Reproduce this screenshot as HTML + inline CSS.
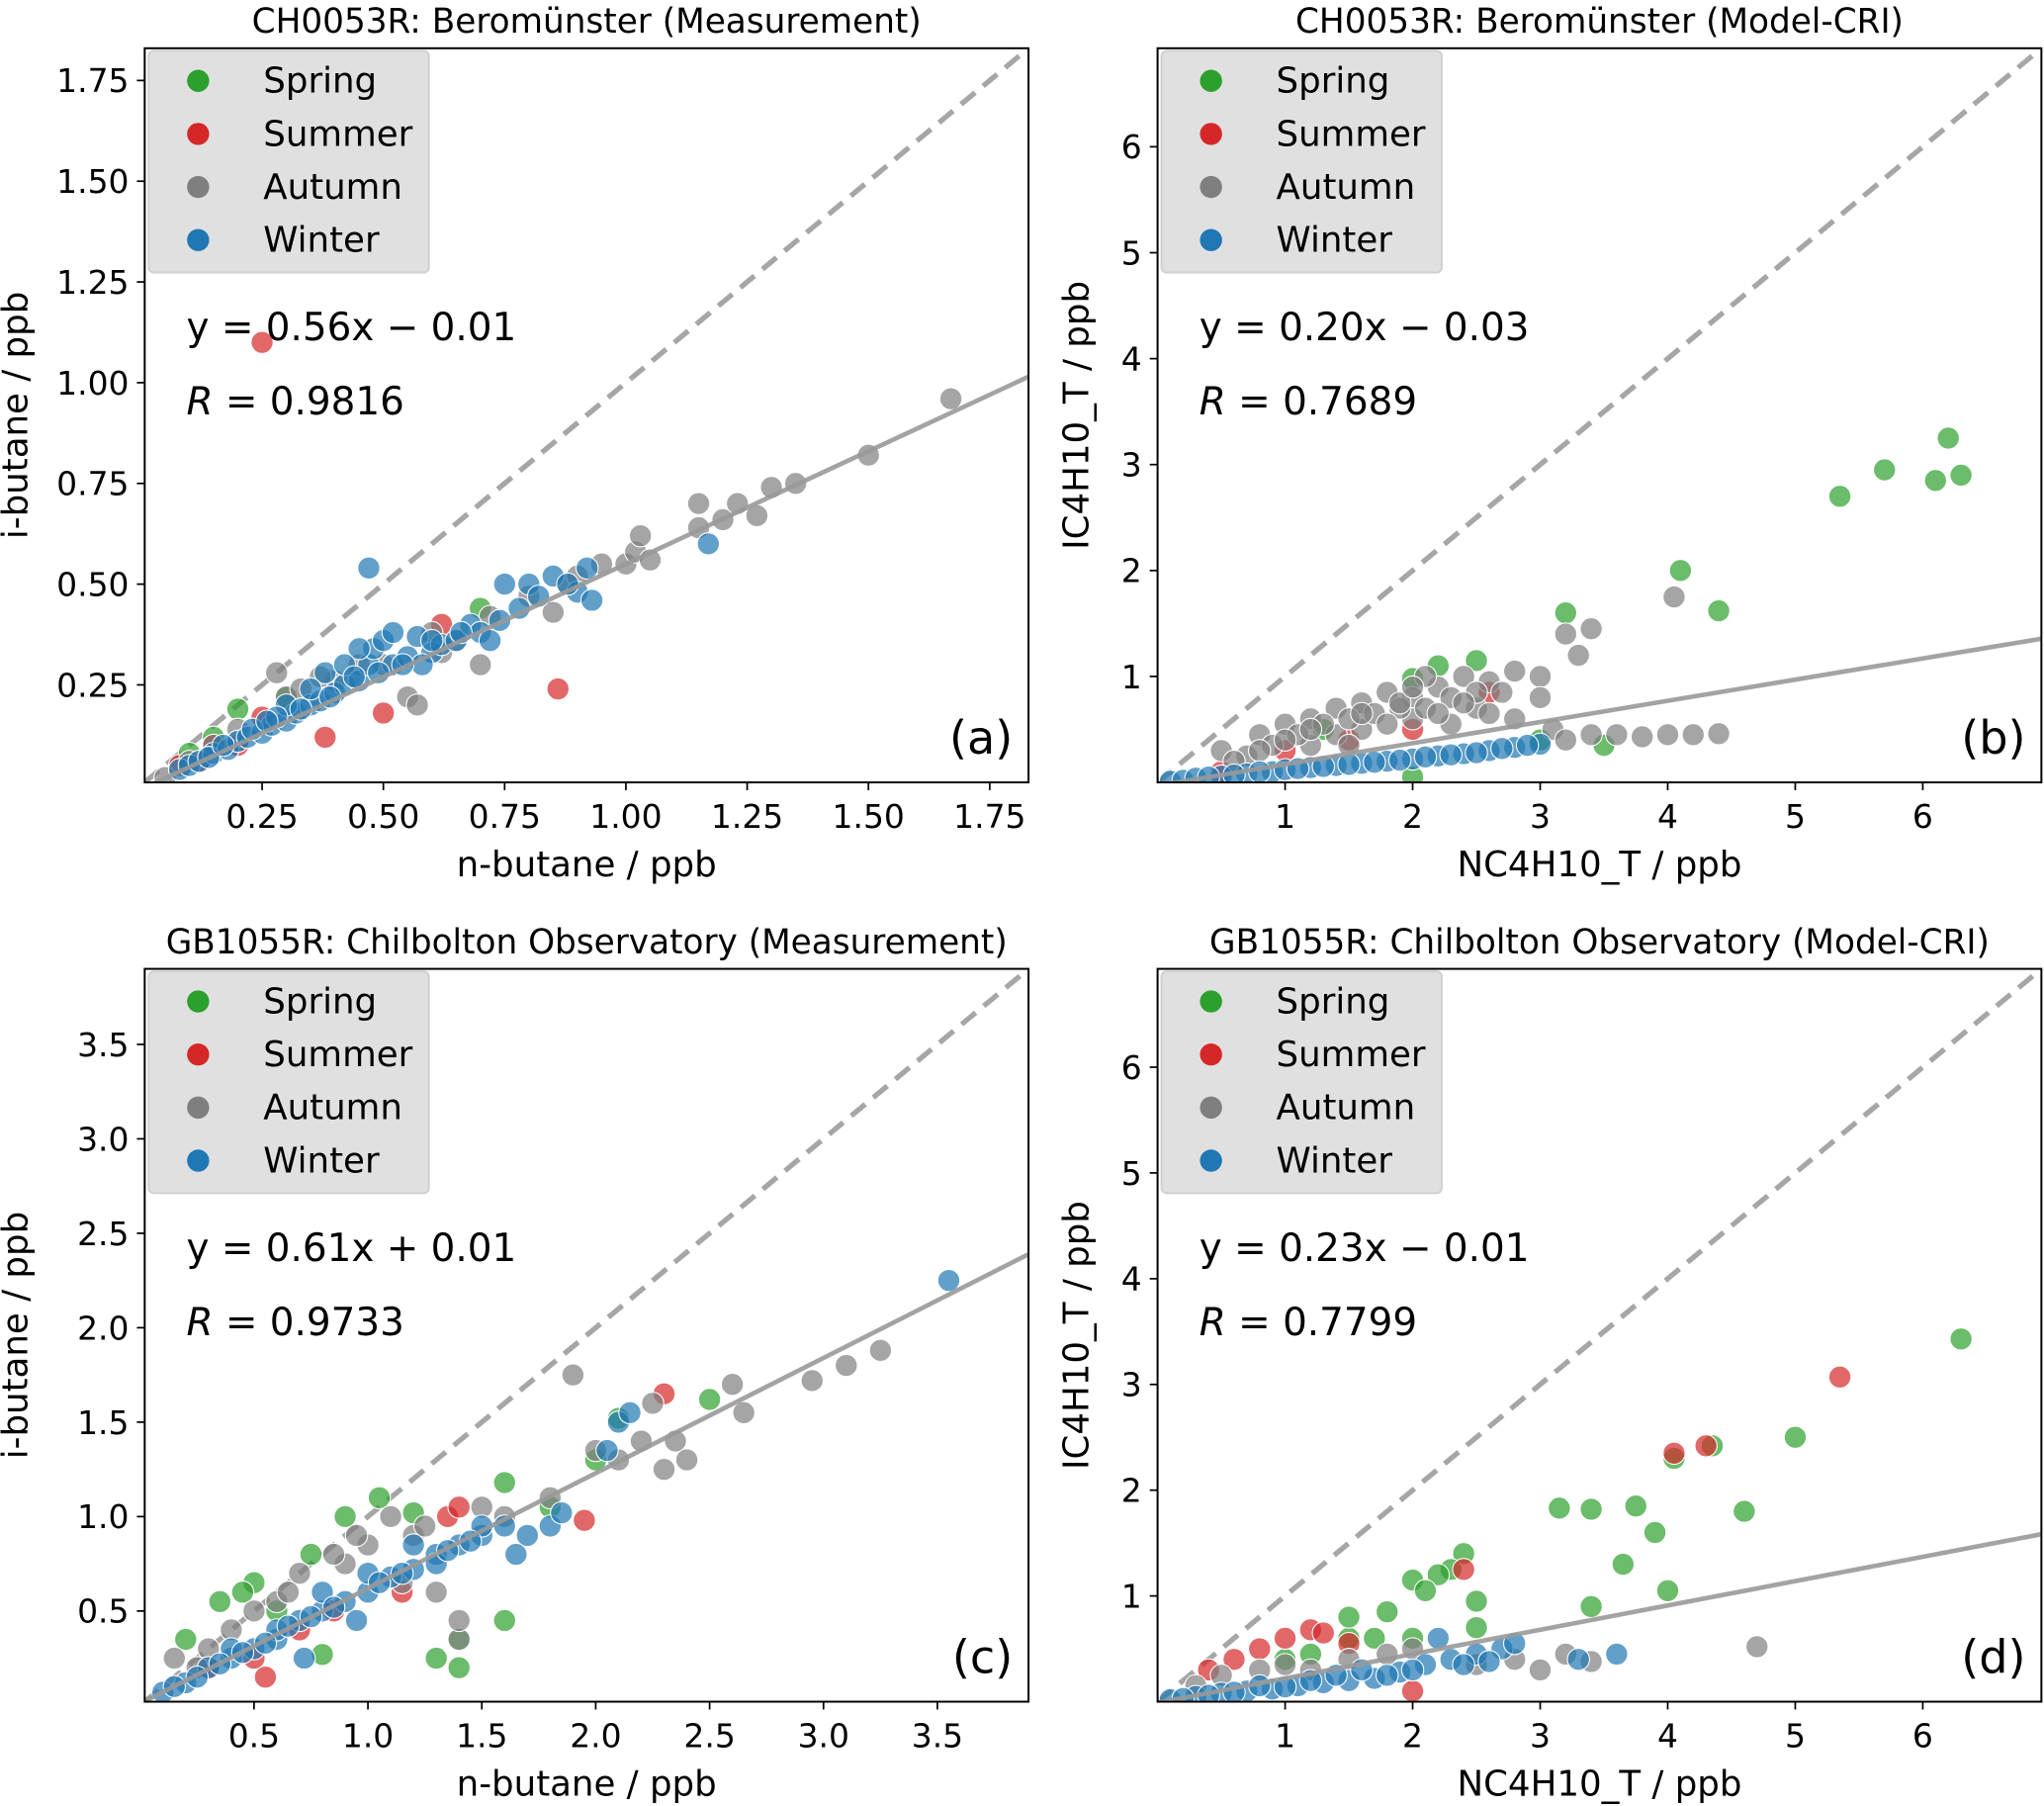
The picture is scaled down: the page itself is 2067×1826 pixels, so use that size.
<!DOCTYPE html>
<html><head><meta charset="utf-8">
<style>
html,body{margin:0;padding:0;background:#fff;}
svg{display:block;font-family:"DejaVu Sans","Liberation Sans",sans-serif;}
</style></head>
<body>
<svg id="fig" width="2067" height="1826" viewBox="0 0 1568 1385" preserveAspectRatio="none" xmlns="http://www.w3.org/2000/svg"></svg>
<script>
// ---------- data ----------
const seasonNames = ["Spring","Summer","Autumn","Winter"];
const seasonColors = ["#2ca02c","#d62728","#7f7f7f","#1f77b4"];

const panelTitles = ["CH0053R: Beromünster (Measurement)","CH0053R: Beromünster (Model-CRI)","GB1055R: Chilbolton Observatory (Measurement)","GB1055R: Chilbolton Observatory (Model-CRI)"];
const panelXLabels = ["n-butane / ppb","NC4H10_T / ppb","n-butane / ppb","NC4H10_T / ppb"];
const panelYLabels = ["i-butane / ppb","IC4H10_T / ppb","i-butane / ppb","IC4H10_T / ppb"];
const panelTags = ["(a)","(b)","(c)","(d)"];
const fitSlopes = [0.56,0.20,0.61,0.23];
const fitIntercepts = [-0.01,-0.03,0.01,-0.01];
const fitEquations = ["y = 0.56x − 0.01","y = 0.20x − 0.03","y = 0.61x + 0.01","y = 0.23x − 0.01"];
const fitR = ["0.9816","0.7689","0.9733","0.7799"];
const axisMin = [0.008,0.0,0.02,0.0];
const axisMax = [1.83,6.93,3.9,6.93];
const tickValsA = [0.25,0.5,0.75,1.0,1.25,1.5,1.75];
const tickLabsA = ["0.25","0.50","0.75","1.00","1.25","1.50","1.75"];
const tickValsB = [1,2,3,4,5,6];
const tickLabsB = ["1","2","3","4","5","6"];
const tickValsC = [0.5,1.0,1.5,2.0,2.5,3.0,3.5];
const tickLabsC = ["0.5","1.0","1.5","2.0","2.5","3.0","3.5"];

// panel (a)
const aSpring = [[0.2,0.19],[0.15,0.12],[0.7,0.44],[0.1,0.08],[0.3,0.22]];
const aSummer = [[0.12,0.06],[0.15,0.1],[0.2,0.1],[0.62,0.4],[0.08,0.05],[0.25,0.17],[0.86,0.24],[0.5,0.18],[0.38,0.12],[0.25,1.1]];
const aAutumn = [[0.05,0.02],[0.1,0.06],[0.28,0.28],[0.4,0.26],[0.5,0.3],[0.55,0.22],[0.57,0.2],[0.6,0.38],[0.65,0.36],[0.7,0.3],[0.72,0.42],[0.8,0.47],[0.85,0.43],[0.88,0.5],[0.9,0.52],[0.95,0.55],[1.0,0.55],[1.02,0.58],[1.03,0.62],[1.05,0.56],[1.15,0.64],[1.15,0.7],[1.2,0.66],[1.23,0.7],[1.27,0.67],[1.3,0.74],[1.35,0.75],[1.5,0.82],[1.67,0.96],[0.3,0.22],[0.45,0.3],[0.2,0.14],[0.15,0.1],[0.33,0.24],[0.37,0.27],[0.62,0.33]];
const aWinter = [[0.08,0.04],[0.1,0.05],[0.12,0.06],[0.15,0.08],[0.18,0.09],[0.2,0.11],[0.22,0.12],[0.25,0.13],[0.27,0.15],[0.3,0.16],[0.32,0.18],[0.35,0.2],[0.37,0.21],[0.4,0.23],[0.42,0.25],[0.45,0.26],[0.47,0.3],[0.48,0.34],[0.5,0.36],[0.52,0.3],[0.55,0.32],[0.57,0.37],[0.6,0.33],[0.62,0.35],[0.65,0.36],[0.68,0.4],[0.7,0.38],[0.72,0.36],[0.75,0.5],[0.78,0.44],[0.8,0.5],[0.85,0.52],[0.9,0.48],[0.93,0.46],[0.92,0.54],[0.47,0.54],[1.17,0.6],[0.45,0.34],[0.38,0.28],[0.3,0.2],[0.28,0.17],[0.52,0.38],[0.58,0.3],[0.42,0.3],[0.35,0.24],[0.14,0.07],[0.17,0.1],[0.23,0.14],[0.26,0.16],[0.33,0.19],[0.39,0.22],[0.44,0.27],[0.49,0.28],[0.54,0.3],[0.6,0.36],[0.66,0.38],[0.74,0.41],[0.82,0.47],[0.88,0.5]];
// panel (b)
const bSpring = [[6.2,3.25],[5.7,2.95],[6.3,2.9],[6.1,2.85],[5.35,2.7],[4.1,2.0],[4.4,1.62],[3.2,1.6],[2.5,1.15],[2.2,1.1],[2.0,0.98],[3.0,0.4],[3.5,0.35],[2.0,0.05],[1.3,0.5]];
const bSummer = [[2.6,0.85],[1.5,0.4],[1.0,0.3],[2.0,0.5],[0.5,0.1]];
const bAutumn = [[0.5,0.3],[0.8,0.45],[1.0,0.55],[1.2,0.6],[1.4,0.7],[1.6,0.75],[1.8,0.85],[2.0,0.8],[2.2,0.9],[2.4,1.0],[2.6,0.95],[2.8,1.05],[3.0,1.0],[3.2,1.4],[3.4,1.45],[3.3,1.2],[4.05,1.75],[1.2,0.35],[1.6,0.5],[2.0,0.6],[2.5,0.7],[2.8,0.6],[3.1,0.5],[3.4,0.45],[3.6,0.45],[3.8,0.43],[4.0,0.45],[4.2,0.45],[4.4,0.46],[3.2,0.4],[0.7,0.25],[1.4,0.45],[1.9,0.7],[2.3,0.55],[2.7,0.85],[0.9,0.35],[3.0,0.8],[2.1,1.0],[0.6,0.2],[1.1,0.45],[1.3,0.55],[1.5,0.6],[1.7,0.65],[1.9,0.75],[2.1,0.7],[2.3,0.8],[2.5,0.85],[1.0,0.4],[1.5,0.35],[1.8,0.55],[2.2,0.65],[2.6,0.65],[1.2,0.5],[1.6,0.65],[2.0,0.9],[2.4,0.75],[0.8,0.3]];
const bWinter = [[0.1,0.01],[0.2,0.02],[0.3,0.04],[0.5,0.06],[0.7,0.08],[0.9,0.1],[1.0,0.12],[1.2,0.14],[1.4,0.16],[1.6,0.18],[1.8,0.2],[2.0,0.22],[2.2,0.25],[2.4,0.27],[2.6,0.3],[2.8,0.33],[3.0,0.36],[1.1,0.13],[1.5,0.17],[1.9,0.21],[2.3,0.26],[2.7,0.32],[0.4,0.05],[0.6,0.07],[0.8,0.1],[1.3,0.15],[1.7,0.19],[2.1,0.24],[2.5,0.28],[2.9,0.35]];
// panel (c)
const cSpring = [[0.2,0.35],[0.35,0.55],[0.5,0.65],[0.6,0.5],[0.75,0.8],[0.9,1.0],[1.05,1.1],[1.3,0.25],[1.4,0.2],[1.4,0.35],[1.6,0.45],[1.6,1.18],[1.8,1.05],[2.0,1.3],[2.1,1.52],[2.5,1.62],[0.45,0.6],[1.2,1.02],[0.8,0.27]];
const cSummer = [[0.55,0.15],[0.5,0.25],[0.85,0.5],[1.15,0.6],[1.35,1.0],[1.95,0.98],[2.3,1.65],[1.4,1.05],[0.3,0.2],[0.7,0.4]];
const cAutumn = [[0.15,0.25],[0.5,0.5],[0.7,0.7],[0.9,0.75],[1.0,0.85],[1.1,1.0],[1.2,0.9],[1.3,0.6],[1.4,0.35],[1.4,0.45],[1.6,1.0],[1.8,1.1],[1.9,1.75],[2.0,1.35],[2.1,1.3],[2.2,1.4],[2.25,1.6],[2.3,1.25],[2.35,1.4],[2.4,1.3],[2.6,1.7],[2.65,1.55],[2.95,1.72],[3.1,1.8],[3.25,1.88],[0.3,0.3],[0.6,0.55],[0.85,0.8],[1.15,0.65],[1.5,1.05],[0.4,0.4],[0.65,0.6],[0.95,0.9],[1.25,0.95],[0.25,0.2]];
const cWinter = [[0.1,0.07],[0.2,0.12],[0.3,0.2],[0.4,0.25],[0.5,0.3],[0.6,0.35],[0.7,0.45],[0.8,0.5],[0.9,0.55],[1.0,0.6],[1.1,0.68],[1.2,0.72],[1.3,0.8],[1.4,0.85],[1.5,0.9],[1.6,0.95],[1.7,0.9],[1.8,0.95],[1.85,1.02],[1.5,0.95],[1.3,0.75],[1.0,0.7],[0.8,0.6],[0.6,0.4],[0.72,0.25],[2.1,1.5],[2.15,1.55],[2.05,1.35],[3.55,2.25],[1.2,0.85],[0.4,0.3],[1.65,0.8],[0.95,0.45],[0.15,0.1],[0.25,0.15],[0.35,0.22],[0.45,0.28],[0.55,0.33],[0.65,0.42],[0.75,0.47],[0.85,0.52],[1.05,0.65],[1.15,0.7],[1.35,0.82],[1.45,0.87]];
// panel (d)
const dSpring = [[6.3,3.43],[5.0,2.5],[4.35,2.42],[4.05,2.3],[4.6,1.8],[3.15,1.83],[3.4,1.82],[3.75,1.85],[3.9,1.6],[3.65,1.3],[4.0,1.05],[3.4,0.9],[2.4,1.4],[2.3,1.25],[2.2,1.2],[2.0,1.15],[2.1,1.05],[2.5,0.95],[2.5,0.7],[1.8,0.85],[1.5,0.6],[1.7,0.6],[2.0,0.6],[1.5,0.8],[1.2,0.45],[1.0,0.4]];
const dSummer = [[5.35,3.07],[4.05,2.35],[4.3,2.42],[2.4,1.25],[1.0,0.6],[1.2,0.68],[1.3,0.65],[0.8,0.5],[0.6,0.4],[1.5,0.55],[0.4,0.3],[2.0,0.1]];
const dAutumn = [[0.5,0.25],[0.8,0.3],[1.0,0.35],[1.5,0.4],[2.0,0.5],[2.5,0.35],[3.0,0.3],[3.2,0.45],[3.4,0.38],[4.7,0.52],[0.3,0.15],[1.2,0.3],[1.8,0.45],[2.8,0.4]];
const dWinter = [[0.1,0.02],[0.3,0.05],[0.5,0.08],[0.7,0.1],[0.9,0.12],[1.1,0.15],[1.3,0.18],[1.5,0.2],[1.7,0.22],[1.9,0.28],[2.1,0.35],[2.3,0.4],[2.5,0.45],[2.7,0.5],[2.8,0.55],[2.2,0.6],[3.3,0.4],[3.6,0.45],[1.2,0.2],[1.6,0.3],[2.0,0.3],[2.4,0.35],[0.8,0.15],[1.4,0.25],[2.6,0.38],[0.2,0.03],[0.4,0.06],[0.6,0.09],[1.0,0.14],[1.8,0.25]];

const panelSeries = [[aSpring,aSummer,aAutumn,aWinter],[bSpring,bSummer,bAutumn,bWinter],[cSpring,cSummer,cAutumn,cWinter],[dSpring,dSummer,dAutumn,dWinter]];
const panelTicks = [[tickValsA,tickLabsA],[tickValsB,tickLabsB],[tickValsC,tickLabsC],[tickValsB,tickLabsB]];

// ---------- drawing ----------
const NS="http://www.w3.org/2000/svg";
const svg=document.getElementById('fig');
function mk(tag,attrs,parent){const e=document.createElementNS(NS,tag);for(const k in attrs)e.setAttribute(k,attrs[k]);(parent||svg).appendChild(e);return e;}
const boxes=[[111,37,789,600],[888,37,1566,600],[111,743,789,1305],[888,743,1566,1305]];

for(let p=0;p<4;p++){
  const [L,T,R,B]=boxes[p];
  const lo=axisMin[p], hi=axisMax[p];
  const sx=v=>L+(v-lo)/(hi-lo)*(R-L);
  const sy=v=>B-(v-lo)/(hi-lo)*(B-T);
  const g=mk('g',{});
  
  
  const defs=mk('clipPath',{id:'clip'+p},g);mk('rect',{x:L,y:T,width:R-L,height:B-T},defs);
  const t=mk('text',{x:(L+R)/2,y:T-12,'text-anchor':'middle','font-size':'26'},g);
  t.textContent=panelTitles[p];
  
  
  const [tv,tl]=panelTicks[p];
  for(let i=0;i<tv.length;i++){
    const x=sx(tv[i]), y=sy(tv[i]);
    mk('line',{x1:x,y1:B,x2:x,y2:B+6,stroke:'#000','stroke-width':1.3},g);
    const xt=mk('text',{x:x,y:B+35,'text-anchor':'middle','font-size':'25'},g);xt.textContent=tl[i];
    
    
    mk('line',{x1:L-6,y1:y,x2:L,y2:y,stroke:'#000','stroke-width':1.3},g);
    const yt=mk('text',{x:L-12,y:y+9,'text-anchor':'end','font-size':'25'},g);yt.textContent=tl[i];
    
    
  }
  const xl=mk('text',{x:(L+R)/2,y:B+72,'text-anchor':'middle','font-size':'27'},g);xl.textContent=panelXLabels[p];
  
  
  const yx=L-(p%2==0?90:53), yy=(T+B)/2;
  const yl=mk('text',{x:yx,y:yy,'text-anchor':'middle','font-size':'27',transform:`rotate(-90 ${yx} ${yy})`},g);yl.textContent=panelYLabels[p];
  
  
  const plot=mk('g',{'clip-path':`url(#clip${p})`},g);
  const d=mk('line',{x1:sx(lo),y1:sy(lo),x2:sx(hi),y2:sy(hi),stroke:'#a6a6a6','stroke-width':4,'stroke-dasharray':'14 8'},plot);
  
  
  for(let s=0;s<4;s++){
    const pts=panelSeries[p][s];
    for(const [vx,vy] of pts){
      const c=mk('circle',{cx:sx(vx),cy:sy(vy),r:8.5,fill:seasonColors[s],'fill-opacity':0.7,stroke:'#fff','stroke-width':0.8},plot);
      
      
    }
  }
  const f=mk('line',{x1:sx(lo),y1:sy(fitSlopes[p]*lo+fitIntercepts[p]),x2:sx(hi),y2:sy(fitSlopes[p]*hi+fitIntercepts[p]),stroke:'#999','stroke-width':3.5,'stroke-opacity':0.9},plot);
  
  
  mk('rect',{x:L,y:T,width:R-L,height:B-T,fill:'none',stroke:'#000','stroke-width':1.5},g);
  const lg=mk('g',{},g);
  
  
  mk('rect',{x:L+3,y:T+2,width:215,height:170,rx:4,fill:'#e0e0e0',stroke:'#d0d0d0','stroke-width':1.5},lg);
  for(let s=0;s<4;s++){
    const yy2=T+25+s*40.7;
    mk('circle',{cx:L+41,cy:yy2,r:8.5,fill:seasonColors[s]},lg);
    const lt=mk('text',{x:L+91,y:yy2+9,'font-size':'27'},lg);lt.textContent=seasonNames[s];
    
    
  }
  const eq=mk('text',{x:L+32,y:T+224,'font-size':'29.5'},g);eq.textContent=fitEquations[p];
  
  
  const rt=mk('text',{x:L+32,y:T+281,'font-size':'29.5'},g);
  
  
  const ri=mk('tspan',{'font-style':'italic'},rt);ri.textContent='R';
  const rv=mk('tspan',{},rt);rv.textContent=' = '+fitR[p];
  const tg=mk('text',{x:R-12,y:B-22,'text-anchor':'end','font-size':'35'},g);tg.textContent=panelTags[p];
  
  
}
</script>
</body></html>
